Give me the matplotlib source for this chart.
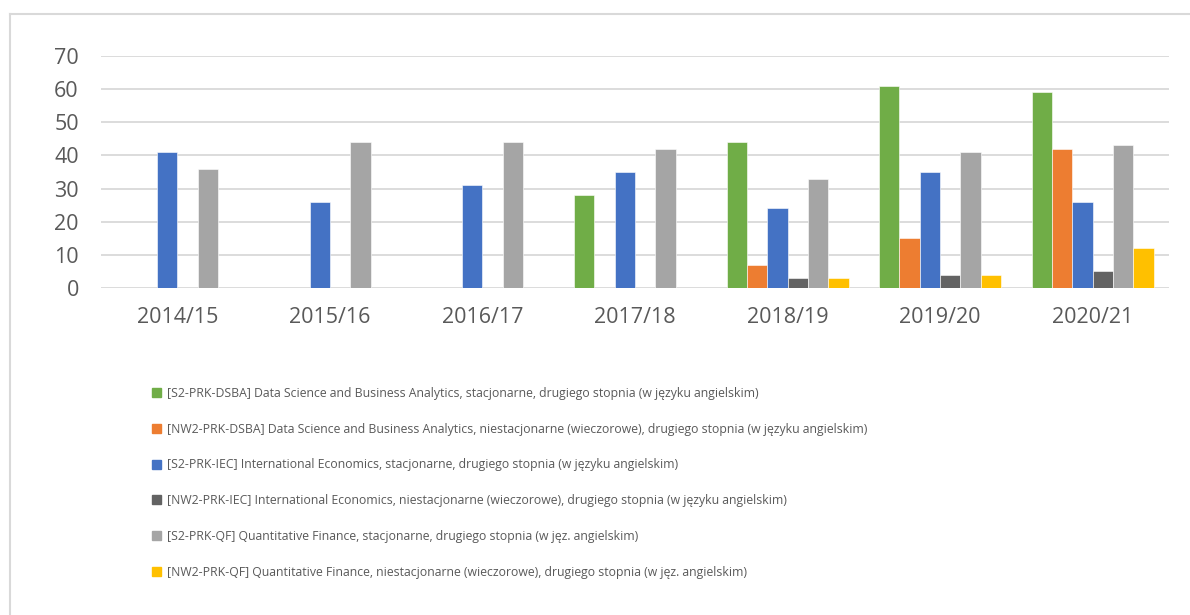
import numpy as np
import matplotlib.pyplot as plt
from matplotlib.lines import Line2D

years = ["2014/15", "2015/16", "2016/17", "2017/18", "2018/19", "2019/20", "2020/21"]

labels = [
    "[S2-PRK-DSBA] Data Science and Business Analytics, stacjonarne, drugiego stopnia (w języku angielskim)",
    "[NW2-PRK-DSBA] Data Science and Business Analytics, niestacjonarne (wieczorowe), drugiego stopnia (w języku angielskim)",
    "[S2-PRK-IEC] International Economics, stacjonarne, drugiego stopnia (w języku angielskim)",
    "[NW2-PRK-IEC] International Economics, niestacjonarne (wieczorowe), drugiego stopnia (w języku angielskim)",
    "[S2-PRK-QF] Quantitative Finance, stacjonarne, drugiego stopnia (w jęz. angielskim)",
    "[NW2-PRK-QF] Quantitative Finance, niestacjonarne (wieczorowe), drugiego stopnia (w jęz. angielskim)",
]

s2_dsba = [np.nan, np.nan, np.nan, 28, 44, 61, 59]
nw2_dsba = [np.nan, np.nan, np.nan, np.nan, 7, 15, 42]
s2_iec = [41, 26, 31, 35, 24, 35, 26]
nw2_iec = [np.nan, np.nan, np.nan, np.nan, 3, 4, 5]
s2_qf = [36, 44, 44, 42, 33, 41, 43]
nw2_qf = [np.nan, np.nan, np.nan, np.nan, 3, 4, 12]

series = [s2_dsba, nw2_dsba, s2_iec, nw2_iec, s2_qf, nw2_qf]
colors = ["#70AD47", "#ED7D31", "#4472C4", "#636363", "#A5A5A5", "#FFC000"]

plt.rcParams["font.family"] = ["Open Sans", "DejaVu Sans"]
text_color = "#595959"

fig = plt.figure(figsize=(11.9, 6.15), dpi=100)

# chart frame (top and left edges visible)
fig.add_artist(Line2D([10 / 1190, 1], [1 - 14 / 615, 1 - 14 / 615], color="#D9D9D9", lw=1.5))
fig.add_artist(Line2D([10 / 1190, 10 / 1190], [0, 1 - 14 / 615], color="#D9D9D9", lw=1.5))

ax = fig.add_axes([101 / 1190, 1 - 288 / 615, (1169 - 101) / 1190, (288 - 56) / 615])

n = len(series)
width = 1 / (n + 1.5)
x = np.arange(len(years))
for i, (vals, c) in enumerate(zip(series, colors)):
    offs = (i - (n - 1) / 2) * width
    ax.bar(x + offs, vals, width=width, color=c, edgecolor="white", linewidth=0.4, zorder=3)

ax.set_xlim(-0.5, len(years) - 0.5)
ax.set_ylim(0, 70)
ax.set_yticks(range(0, 71, 10))
ax.set_xticks(x)
ax.set_xticklabels(years)
ax.grid(axis="y", color="#D9D9D9", lw=1.3, zorder=0)
for s in ax.spines.values():
    s.set_visible(False)
ax.tick_params(length=0, labelsize=15.5, colors=text_color)
ax.tick_params(axis="y", pad=16)
ax.tick_params(axis="x", pad=14)

handles = [plt.Rectangle((0, 0), 1, 1, color=c) for c in colors]
fig.legend(handles, labels, loc="upper left", bbox_to_anchor=(141 / 1190, 1 - 376 / 615),
           frameon=False, fontsize=8.8, labelcolor=text_color, handlelength=0.75, handleheight=0.75,
           handletextpad=0.45, labelspacing=1.86)

fig.savefig("out.png", dpi=100)
